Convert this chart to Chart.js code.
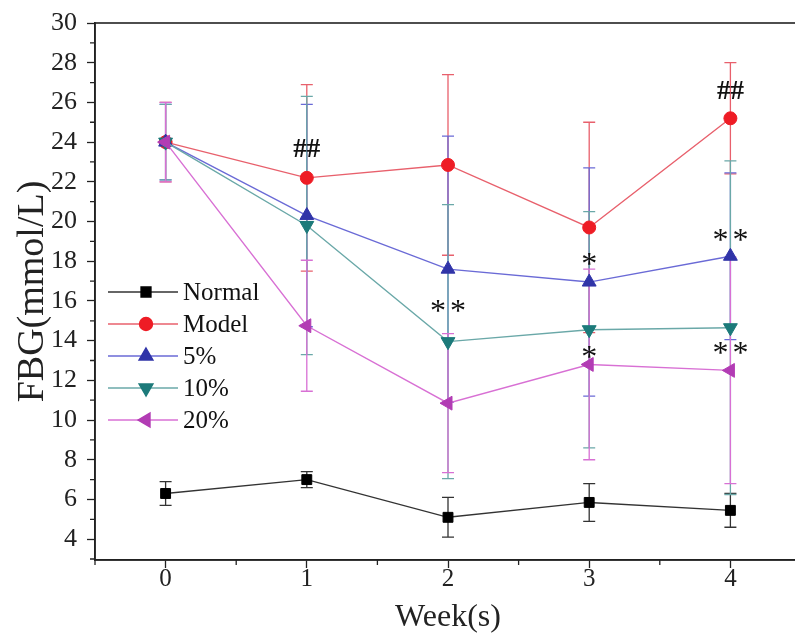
<!DOCTYPE html>
<html>
<head>
<meta charset="utf-8">
<script src="https://cdn.jsdelivr.net/npm/chart.js@4"></script>
<style>
  body { margin: 0; background: #fff; overflow: hidden; }
  .wrap { width: 810px; height: 637px; }
</style>
</head>
<body>
<div class="wrap"><canvas id="chart"></canvas></div>
<script>
// data
const weeks = [0, 1, 2, 3, 4];
const normal = [6.3, 7.0, 5.1, 5.85, 5.45];
const normalErr = [0.6, 0.4, 1.0, 0.95, 0.85];
const model = [24.0, 22.2, 22.85, 19.7, 25.2];
const modelErr = [2.0, 4.7, 4.55, 5.3, 2.8];
const p5 = [24.0, 20.3, 17.6, 16.95, 18.25];
const p5Err = [1.9, 5.6, 6.7, 5.75, 4.2];
const p10 = [24.0, 19.8, 13.95, 14.55, 14.65];
const p10Err = [1.9, 6.5, 6.9, 5.95, 8.4];
const p20 = [24.0, 14.75, 10.85, 12.8, 12.5];
const p20Err = [2.0, 3.3, 3.5, 4.8, 5.7];

const yTicks = [4, 6, 8, 10, 12, 14, 16, 18, 20, 22, 24, 26, 28, 30];
const xTicks = [0, 1, 2, 3, 4];

// significance marks: [week, value, text]
const marks = [
  [1, 23.6, '##'],
  [4, 26.5, '##'],
  [2, 15.4, '**'],
  [3, 17.8, '*'],
  [3, 13.1, '*'],
  [4, 19.0, '**'],
  [4, 13.3, '**']
];

const serif = "'Liberation Serif', 'DejaVu Serif', serif";

function pts(vals) {
  return weeks.map((w, i) => ({ x: w, y: vals[i] }));
}

function series(label, vals, err, line, fill, style, rot, radius, order) {
  return {
    label: label,
    data: pts(vals),
    err: err,
    borderColor: line,
    backgroundColor: fill,
    pointBackgroundColor: fill,
    pointBorderColor: fill,
    pointStyle: style,
    rotation: rot,
    pointRadius: radius,
    borderWidth: 1.4,
    pointBorderWidth: 1,
    tension: 0,
    order: order
  };
}

const datasets = [
  series('Normal', normal, normalErr, '#333333', '#000000', 'rect', 0, 7, 5),
  series('Model', model, modelErr, '#e8606c', '#ee1c25', 'circle', 0, 6.5, 4),
  series('5%', p5, p5Err, '#6a6ad6', '#3034a8', 'triangle', 0, 8, 3),
  series('10%', p10, p10Err, '#6aa8a8', '#1c7a7a', 'triangle', 180, 8, 2),
  series('20%', p20, p20Err, '#d870d4', '#b23cb4', 'triangle', 270, 8, 1)
];

const extras = {
  id: 'extras',
  beforeDatasetsDraw(chart) {
    const ctx = chart.ctx, xs = chart.scales.x, ys = chart.scales.y;
    ctx.save();
    ctx.lineWidth = 1.3;
    chart.data.datasets.forEach(ds => {
      ctx.strokeStyle = ds.borderColor;
      ds.data.forEach((p, i) => {
        const x = xs.getPixelForValue(p.x);
        const t = ys.getPixelForValue(p.y + ds.err[i]);
        const b = ys.getPixelForValue(p.y - ds.err[i]);
        ctx.beginPath();
        ctx.moveTo(x, t); ctx.lineTo(x, b);
        ctx.moveTo(x - 6, t); ctx.lineTo(x + 6, t);
        ctx.moveTo(x - 6, b); ctx.lineTo(x + 6, b);
        ctx.stroke();
      });
    });
    ctx.restore();
  },
  afterDraw(chart) {
    const ctx = chart.ctx, xs = chart.scales.x, ys = chart.scales.y;
    const a = chart.chartArea;
    ctx.save();
    // frame
    ctx.strokeStyle = '#222';
    ctx.lineWidth = 1.6;
    ctx.strokeRect(a.left, a.top, a.right - a.left, a.bottom - a.top);
    // minor ticks
    ctx.lineWidth = 1.3;
    ctx.beginPath();
    for (let v = Math.ceil(ys.min); v <= ys.max; v++) {
      if (yTicks.includes(v)) continue;
      const y = ys.getPixelForValue(v);
      ctx.moveTo(a.left - 5, y); ctx.lineTo(a.left, y);
    }
    for (let v = xs.min; v <= xs.max; v += 0.5) {
      if (xTicks.includes(v)) continue;
      const x = xs.getPixelForValue(v);
      ctx.moveTo(x, a.bottom); ctx.lineTo(x, a.bottom + 5);
    }
    ctx.stroke();

    // significance marks
    ctx.fillStyle = '#111';
    ctx.textAlign = 'center';
    ctx.textBaseline = 'middle';
    marks.forEach(m => {
      ctx.font = (m[2][0] == '#' ? 'bold 27px ' : '32px ') + serif;
      ctx.letterSpacing = m[2] == '**' ? '4px' : '0px';
      const dx = m[2] == '**' ? 2 : 0;
      ctx.fillText(m[2], xs.getPixelForValue(m[0]) + dx, ys.getPixelForValue(m[1]));
    });
    ctx.letterSpacing = '0px';

    // legend
    const lx0 = a.left + 13, lx1 = a.left + 83, ly0 = 292, step = 32;
    ctx.textAlign = 'left';
    ctx.font = '25px ' + serif;
    chart.data.datasets.forEach((ds, i) => {
      const y = ly0 + i * step;
      ctx.strokeStyle = ds.borderColor;
      ctx.lineWidth = 1.4;
      ctx.beginPath();
      ctx.moveTo(lx0, y); ctx.lineTo(lx1, y);
      ctx.stroke();
      ctx.fillStyle = ds.pointBackgroundColor;
      ctx.strokeStyle = ds.pointBackgroundColor;
      Chart.helpers.drawPoint(ctx, {
        pointStyle: ds.pointStyle,
        rotation: ds.rotation,
        radius: ds.pointRadius,
        borderWidth: 1
      }, (lx0 + lx1) / 2 + 3, y);
      ctx.fillStyle = '#111';
      ctx.fillText(ds.label, lx1 + 5, y + 1);
    });
    ctx.restore();
  }
};

new Chart(document.getElementById('chart'), {
  type: 'line',
  data: { datasets: datasets },
  options: {
    responsive: true,
    maintainAspectRatio: false,
    animation: false,
    layout: { padding: { top: 19, right: 2, left: 0, bottom: 0 } },
    plugins: {
      legend: { display: false },
      tooltip: { enabled: false }
    },
    scales: {
      x: {
        type: 'linear',
        min: -0.5,
        max: 4.5,
        afterBuildTicks: s => { s.ticks = xTicks.map(v => ({ value: v })); },
        afterFit: s => { s.height = 77; },
        grid: { drawOnChartArea: false, drawTicks: true, tickLength: 8, tickColor: '#222', tickWidth: 1.3 },
        border: { display: true, color: '#222', width: 1.6 },
        ticks: { color: '#222', font: { family: serif, size: 25 }, padding: -4 },
        title: { display: true, text: 'Week(s)', color: '#222', font: { family: serif, size: 32 }, padding: { top: -4, bottom: 0 } }
      },
      y: {
        min: 2.95,
        max: 30,
        afterBuildTicks: s => { s.ticks = yTicks.map(v => ({ value: v })); },
        afterFit: s => { s.width = 95; },
        grid: { drawOnChartArea: false, drawTicks: true, tickLength: 8, tickColor: '#222', tickWidth: 1.3 },
        border: { display: true, color: '#222', width: 1.6 },
        ticks: { color: '#222', font: { family: serif, size: 26, lineHeight: 1 }, padding: 10 },
        title: { display: true, text: 'FBG(mmol/L)', color: '#222', font: { family: serif, size: 38 }, padding: { top: 10, bottom: 0 } }
      }
    }
  },
  plugins: [extras]
});
</script>
</body>
</html>
